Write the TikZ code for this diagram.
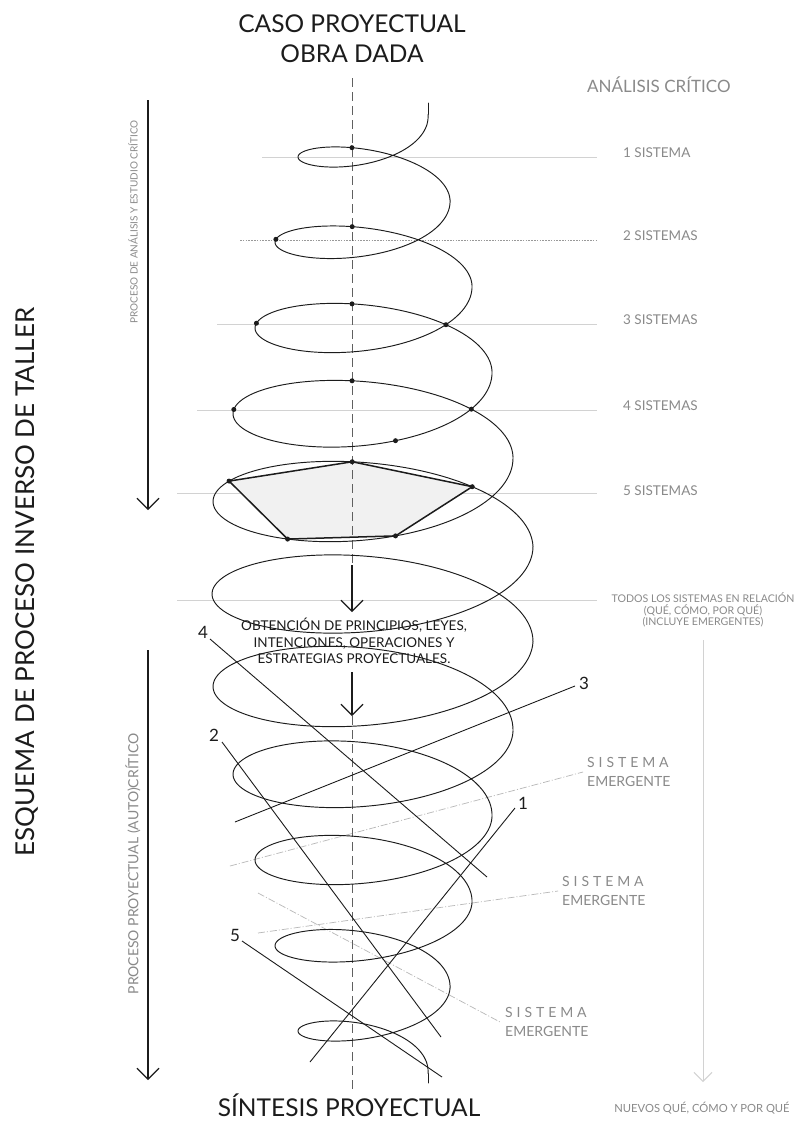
\documentclass[tikz,border=0pt]{standalone}
\usepackage{fontspec}
\setmainfont{Lato}
\newfontfamily\widefont[LetterSpace=28]{Lato}
\usetikzlibrary{arrows.meta}
\definecolor{ink}{HTML}{1C1C1C}
\definecolor{softtext}{HTML}{8A8A8A}
\definecolor{guide}{HTML}{D2D2D2}
\definecolor{leader}{HTML}{B8B8B8}
\definecolor{plate}{HTML}{F1F1F1}

% One turn of the coil: from the right bulge (#1,#2) to the next one (#3,#4),
% reaching left to x=#5, with loop depth #6; #7 is the angle in radians.
\newcommand\turnx[7]{(#1+(#3-#1)*(#7)/6.28319)*(1+cos((#7) r))/2+#5*(1-cos((#7) r))/2}
\newcommand\turny[7]{#2+(#4-#2)*(#7)/6.28319+#6*sin((#7) r)}
\newcommand\turn[6]{\draw[coil] plot[domain=0:6.28319,samples=110,smooth,variable=\t]
  ({\turnx{#1}{#2}{#3}{#4}{#5}{#6}{\t}},{\turny{#1}{#2}{#3}{#4}{#5}{#6}{\t}});}
\newcommand\onturn[8]{\coordinate (#8) at ({\turnx{#1}{#2}{#3}{#4}{#5}{#6}{#7}},{\turny{#1}{#2}{#3}{#4}{#5}{#6}{#7}});}

\begin{document}
\begin{tikzpicture}[x=1pt,y=-1pt,
  coil/.style={draw=ink,line width=0.95pt,line cap=round,line join=round},
  guideline/.style={draw=guide,line width=0.7pt},
  dotguide/.style={draw=ink!45,line width=0.7pt,dash pattern=on 1.6pt off 1.2pt},
  leaderline/.style={draw=leader,line width=0.7pt,dash pattern=on 7pt off 2pt on 1pt off 2pt},
  axisline/.style={draw=ink!70,line width=0.7pt,dash pattern=on 9pt off 5pt},
  rayline/.style={draw=ink,line width=0.9pt},
  edge/.style={draw=ink,line width=1.5pt,line join=round},
  flow/.style={draw=ink,line width=1.1pt,-{Straight Barb[length=11pt,width=22pt]}},
  softflow/.style={draw=guide,line width=1pt,-{Straight Barb[length=9pt,width=18pt]}},
  knot/.style={fill=ink},
  title/.style={font=\fontsize{24.5}{29}\selectfont,text=ink,inner sep=0pt},
  sidetitle/.style={font=\fontsize{26}{30}\selectfont,text=ink,inner sep=0pt},
  syslabel/.style={font=\fontsize{13.5}{16}\selectfont,text=softtext,inner sep=0pt},
  smalllabel/.style={font=\fontsize{10.6}{11.5}\selectfont,text=softtext,inner sep=0pt,align=center},
  emlabel/.style={font=\fontsize{14}{19}\selectfont,text=softtext,inner sep=0pt,align=left},
  rotlabel/.style={text=softtext,inner sep=0pt,rotate=90},
  numlabel/.style={font=\fontsize{17}{20}\selectfont,text=ink,inner sep=0pt},
  bodytext/.style={font=\fontsize{13.5}{16.5}\selectfont,text=ink,inner sep=0pt,align=center}]

\fill[white] (0,0) rectangle (798,1128);
\path[use as bounding box] (0,0) rectangle (798,1128);

% ---- level guides on the right ----
\coordinate (g1a) at (262,157); \coordinate (g1b) at (597,157);
\coordinate (g2a) at (240,240); \coordinate (g2b) at (597,240);
\coordinate (g3a) at (217,324); \coordinate (g3b) at (597,324);
\coordinate (g4a) at (197,410); \coordinate (g4b) at (597,410);
\coordinate (g5a) at (177,493); \coordinate (g5b) at (597,493);
\coordinate (g6a) at (177,600); \coordinate (g6b) at (597,600);
\draw[guideline] (g1a) -- (g1b);
\draw[dotguide]  (g2a) -- (g2b);
\draw[guideline] (g3a) -- (g3b);
\draw[guideline] (g4a) -- (g4b);
\draw[guideline] (g5a) -- (g5b);
\draw[guideline] (g6a) -- (g6b);

% ---- emergent system leaders ----
\coordinate (e1a) at (230,866); \coordinate (e1b) at (583,772);
\coordinate (e2a) at (258,933); \coordinate (e2b) at (558,891);
\coordinate (e3a) at (258,893); \coordinate (e3b) at (500,1022);
\draw[leaderline] (e1a) -- (e1b);
\draw[leaderline] (e2a) -- (e2b);
\draw[leaderline] (e3a) -- (e3b);

% ---- marked points on the coil ----
\onturn{428}{114.5}{450}{199.5}{298}{28}{4.45}{k1t}
\onturn{450}{199.5}{472}{285}{275}{35}{4.52}{k2t}
\onturn{450}{199.5}{472}{285}{275}{35}{3.28}{k2l}
\onturn{472}{285}{492}{371}{255}{44}{4.55}{k3t}
\onturn{472}{285}{492}{371}{255}{44}{3.30}{k3l}
\onturn{472}{285}{492}{371}{255}{44}{5.395}{k3r}
\onturn{492}{371}{513}{456.5}{233}{53}{4.58}{k4t}
\onturn{492}{371}{513}{456.5}{233}{53}{3.25}{k4l}
\onturn{492}{371}{513}{456.5}{233}{53}{5.514}{k4r}
\onturn{492}{371}{513}{456.5}{233}{53}{1.335}{k4b}
\onturn{513}{456.5}{533}{546.5}{213}{61}{4.597}{p1}
\onturn{513}{456.5}{533}{546.5}{213}{61}{3.60}{p2}
\onturn{513}{456.5}{533}{546.5}{213}{61}{2.11}{p3}
\onturn{513}{456.5}{533}{546.5}{213}{61}{1.37}{p4}
\onturn{513}{456.5}{533}{546.5}{213}{61}{5.40}{p5}

% ---- five-system plate ----
\fill[plate] (p1) -- (p2) -- (p3) -- (p4) -- (p5) -- cycle;

% ---- central axis ----
\coordinate (axtop) at (352,78);
\coordinate (axa) at (352,565);
\coordinate (axb) at (352,716);
\coordinate (axbot) at (352,1092);
\draw[axisline] (axtop) -- (axa);
\draw[axisline] (axb) -- (axbot);

% ---- the coil ----
\coordinate (cstart) at (428,103);
\coordinate (ctop) at (428,114.5);
\coordinate (cbot) at (428,1073.5);
\coordinate (cend) at (428,1083);
\draw[coil] (cstart) -- (ctop);
\turn{428}{114.5}{450}{199.5}{298}{28}
\turn{450}{199.5}{472}{285}{275}{35}
\turn{472}{285}{492}{371}{255}{44}
\turn{492}{371}{513}{456.5}{233}{53}
\turn{513}{456.5}{533}{546.5}{213}{61}
\turn{533}{546.5}{533}{641.5}{212}{61}
\turn{533}{641.5}{513}{731.5}{213}{61}
\turn{513}{731.5}{492}{817}{233}{53}
\turn{492}{817}{472}{903}{255}{44}
\turn{472}{903}{450}{988.5}{275}{35}
\turn{450}{988.5}{428}{1073.5}{298}{28}
\draw[coil] (cbot) -- (cend);

\draw[edge] (p1) -- (p2) -- (p3) -- (p4) -- (p5) -- cycle;
\foreach \k in {k1t,k2t,k2l,k3t,k3l,k3r,k4t,k4l,k4r,k4b,p1,p2,p3,p4,p5}
  \fill[knot] (\k) circle[radius=2.5pt];

% ---- numbered rays ----
\node[numlabel] (n4) at (203,632) {4};
\node[numlabel] (n2) at (214,735) {2};
\node[numlabel] (n3) at (584,683) {3};
\node[numlabel] (n1) at (523,803) {1};
\node[numlabel] (n5) at (235,935) {5};
\coordinate (r4a) at (210,639); \coordinate (r4b) at (487,877);
\coordinate (r2a) at (222,742); \coordinate (r2b) at (441,1037);
\coordinate (r3a) at (575,686); \coordinate (r3b) at (235,822);
\coordinate (r1a) at (515,808); \coordinate (r1b) at (310,1062);
\coordinate (r5a) at (242,941); \coordinate (r5b) at (442,1077);
\draw[rayline] (r4a) -- (r4b);
\draw[rayline] (r2a) -- (r2b);
\draw[rayline] (r3a) -- (r3b);
\draw[rayline] (r1a) -- (r1b);
\draw[rayline] (r5a) -- (r5b);

% ---- process arrows ----
\coordinate (la1) at (148,100); \coordinate (la2) at (148,510);
\coordinate (lb1) at (148,650); \coordinate (lb2) at (148,1080);
\draw[flow] (la1) -- (la2);
\draw[flow] (lb1) -- (lb2);
\coordinate (ma1) at (352,565); \coordinate (ma2) at (352,612);
\coordinate (mb1) at (352,672); \coordinate (mb2) at (352,716);
\draw[flow] (ma1) -- (ma2);
\draw[flow] (mb1) -- (mb2);
\coordinate (ra1) at (703,640); \coordinate (ra2) at (703,1082);
\draw[softflow] (ra1) -- (ra2);

% ---- texts ----
\node[title,anchor=base] (caso) at (352,32) {CASO PROYECTUAL};
\node[title,anchor=base] (obra) at (352,62) {OBRA DADA};
\node[title,anchor=base] (sintesis) at (349,1116) {SÍNTESIS PROYECTUAL};
\node[sidetitle,rotate=90] (esquema) at (27,582) {ESQUEMA DE PROCESO INVERSO DE TALLER};
\node[rotlabel,font=\fontsize{10}{12}\selectfont] (procA) at (133,222) {PROCESO DE ANÁLISIS Y ESTUDIO CRÍTICO};
\node[rotlabel,font=\fontsize{14}{16}\selectfont] (procB) at (133,864) {PROCESO PROYECTUAL (AUTO)CRÍTICO};

\node[syslabel,font=\fontsize{17}{19}\selectfont,anchor=base west] (analisis) at (587,92) {ANÁLISIS CRÍTICO};
\node[syslabel,anchor=base west] (s1) at (623,157) {1 SISTEMA};
\node[syslabel,anchor=base west] (s2) at (623,240) {2 SISTEMAS};
\node[syslabel,anchor=base west] (s3) at (623,324) {3 SISTEMAS};
\node[syslabel,anchor=base west] (s4) at (623,410) {4 SISTEMAS};
\node[syslabel,anchor=base west] (s5) at (623,495) {5 SISTEMAS};

\node[smalllabel] (todos) at (703,610) {TODOS LOS SISTEMAS EN RELACIÓN\\(QUÉ, CÓMO, POR QUÉ)\\(INCLUYE EMERGENTES)};
\node[smalllabel,font=\fontsize{11.2}{13}\selectfont,anchor=base] (nuevos) at (702,1112) {NUEVOS QUÉ, CÓMO Y POR QUÉ};

\node[bodytext] (obt) at (354,641) {OBTENCIÓN DE PRINCIPIOS, LEYES,\\INTENCIONES, OPERACIONES Y\\ESTRATEGIAS PROYECTUALES.};

\node[emlabel,anchor=west] (em1) at (587,772) {{\widefont SISTEMA}\\EMERGENTE};
\node[emlabel,anchor=west] (em2) at (562,891) {{\widefont SISTEMA}\\EMERGENTE};
\node[emlabel,anchor=west] (em3) at (505,1022) {{\widefont SISTEMA}\\EMERGENTE};
\end{tikzpicture}
\end{document}
